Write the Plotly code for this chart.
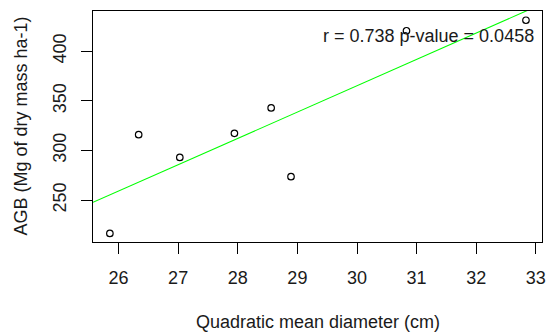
import numpy as np
import plotly.graph_objects as go

# Plot-level mean quadratic diameter vs above-ground biomass
qmd_cm = [25.855, 26.338, 27.028, 27.944, 28.560, 28.893, 30.830, 32.834]
agb = [216.5, 316.0, 293.1, 317.3, 342.9, 273.7, 420.6, 431.2]

x_ticks = [26, 27, 28, 29, 30, 31, 32, 33]
y_ticks = [250, 300, 350, 400]
x_range = [25.572, 33.103]
y_range = [207.9, 440.5]

stats_label = "r = 0.738 p-value = 0.0458"

# Least-squares line drawn across the full x range (like abline(lm(...)))
slope, intercept = np.polyfit(qmd_cm, agb, 1)
fit_x = np.array(x_range)
fit_y = intercept + slope * fit_x

FONT = "Liberation Sans, Arial, sans-serif"
TXT = "#1a1a1a"

fig = go.Figure()
fig.add_trace(go.Scatter(
    x=fit_x, y=fit_y, mode="lines",
    line=dict(color="#00ff00", width=1.1),
    hoverinfo="skip", showlegend=False,
))
fig.add_trace(go.Scatter(
    x=qmd_cm, y=agb, mode="markers",
    marker=dict(symbol="circle-open", size=6.5, color="black",
                line=dict(color="black", width=1.2)),
    showlegend=False,
))

fig.add_annotation(
    x=31.196, y=415.3, xref="x", yref="y", text=stats_label,
    showarrow=False, xanchor="center", yanchor="middle",
    font=dict(family=FONT, size=18, color=TXT),
)
fig.add_annotation(
    x=0.5, y=0, xref="paper", yref="paper", text="Quadratic mean diameter (cm)",
    showarrow=False, xanchor="center", yanchor="middle", yshift=-80,
    font=dict(family=FONT, size=18, color=TXT),
)
fig.add_annotation(
    x=0, y=0.5, xref="paper", yref="paper", text="AGB (Mg of dry mass ha-1)",
    showarrow=False, xanchor="center", yanchor="middle", xshift=-73,
    textangle=-90, font=dict(family=FONT, size=18, color=TXT),
)

axis_common = dict(
    showgrid=False, zeroline=False, showline=True, mirror=True,
    linecolor="black", linewidth=1, ticks="outside", ticklen=11,
    tickwidth=1, tickcolor="black",
    tickfont=dict(family=FONT, size=18, color=TXT),
)
fig.update_xaxes(range=x_range, tickvals=x_ticks, ticklabelstandoff=8, **axis_common)
fig.update_yaxes(range=y_range, tickvals=y_ticks, tickangle=-90,
                 ticklabelstandoff=8, **axis_common)

fig.update_layout(
    width=550, height=333,
    margin=dict(l=93, r=4.5, t=11, b=90.5),
    paper_bgcolor="white", plot_bgcolor="white",
    font=dict(family=FONT),
)

fig.write_html("out.html")
